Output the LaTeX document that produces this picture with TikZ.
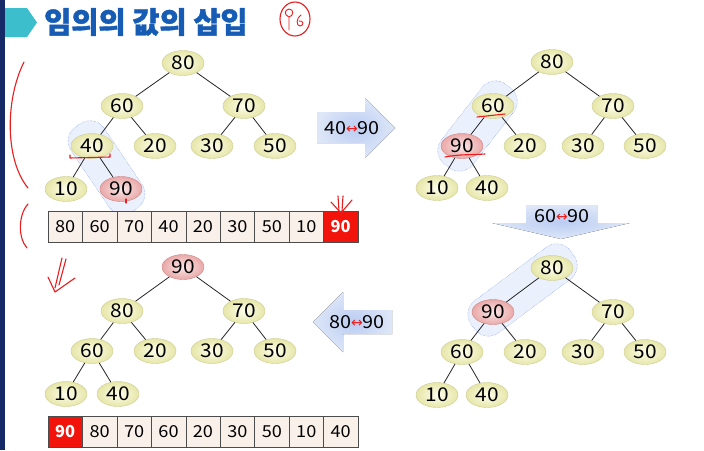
\documentclass[tikz,border=0pt]{standalone}
\usepackage{fontspec}
\setmainfont{Noto Sans CJK KR}
\newfontfamily\krfont[BoldFeatures={FakeBold=1.3}]{Noto Sans CJK KR}
\newfontfamily\numfont[FakeStretch=1.1]{Noto Sans CJK KR}
\newfontfamily\symfont{DejaVu Sans}
\usetikzlibrary{shapes.geometric,calc}
\definecolor{nodein}{RGB}{254,254,238}
\definecolor{nodeout}{RGB}{230,230,168}
\definecolor{nodeedge}{RGB}{205,205,150}
\definecolor{redin}{RGB}{250,232,232}
\definecolor{redout}{RGB}{234,168,168}
\definecolor{rededge}{RGB}{205,135,135}
\definecolor{cellfill}{RGB}{250,240,234}
\definecolor{cellred}{RGB}{242,20,10}
\definecolor{titleblue}{RGB}{22,92,180}
\definecolor{barblue}{RGB}{22,42,104}
\definecolor{tealarr}{RGB}{60,190,205}
\definecolor{hlfill}{RGB}{222,232,250}
\definecolor{hldraw}{RGB}{100,130,230}
\definecolor{arrin}{RGB}{186,204,242}
\definecolor{arrout}{RGB}{222,231,248}
\definecolor{pen}{RGB}{232,30,30}
\tikzset{
  hn/.style={ellipse, minimum width=42pt, minimum height=25pt, inner sep=0pt,
    draw=nodeedge, inner color=nodein, outer color=nodeout,
    font=\numfont\fontsize{19}{19}\selectfont},
  hr/.style={hn, draw=rededge, inner color=redin, outer color=redout},
  treeline/.style={draw=black!85, line width=0.8pt},
  cell/.style={draw=black!70, fill=cellfill, minimum width=34.44pt, minimum height=31pt,
    inner sep=0pt, font=\numfont\fontsize{16.5}{16.5}\selectfont},
  redcell/.style={cell, fill=cellred, text=white, font=\bfseries\fontsize{16.5}{16.5}\selectfont},
  hl/.style={rectangle, rounded corners=17pt, draw=hldraw, densely dotted, fill=hlfill, fill opacity=0.6},
  blockarrow/.style={shading=radial, inner color=arrin, outer color=arrout},
  arrtext/.style={font=\numfont\fontsize{18}{18}\selectfont},
  pen/.style={draw=pen, line width=1.1pt, line cap=round, line join=round}
}
\newcommand\swp[2]{#1{\symfont\color{pen}\fontsize{14}{14}\selectfont\raisebox{1pt}{↔}}#2}
\begin{document}
\begin{tikzpicture}[x=1pt,y=-1pt]
\useasboundingbox (0,0) rectangle (704,450);
\fill[white] (0,0) rectangle (704,450);
% left bar and title
\fill[barblue] (0,0) rectangle (5,450);
\fill[tealarr] (5,8) -- (27,8) -- (37,22.5) -- (27,37) -- (5,37) -- cycle;
\node[anchor=west, text=titleblue, inner sep=0pt, font=\krfont\bfseries\fontsize{29.5}{29.5}\selectfont] (title) at (44,22) {임의의 값의 삽입};

% highlight capsules (behind nodes)
\coordinate (h1a) at (92,146); \coordinate (h1b) at (121,189);
\coordinate (h2a) at (493,106); \coordinate (h2b) at (462,146);
\coordinate (h3a) at (552,268); \coordinate (h3b) at (493,312);
\foreach \ca/\cb/\nm in {h1a/h1b/cap1, h2a/h2b/cap2, h3a/h3b/cap3}{
  \path let \p1=($(\cb)-(\ca)$), \n1={atan2(\y1,\x1)}, \n2={veclen(\x1,\y1)} in
    node[hl, rotate=\n1, minimum width=\n2+50pt, minimum height=40pt] (\nm) at ($(\ca)!0.5!(\cb)$) {};
}

% block arrows
\fill[blockarrow] (317,112) -- (365,112) -- (365,98) -- (395,128) -- (365,158) -- (365,143) -- (317,143) -- cycle;
\node[arrtext] (sw1) at (352,128) {\swp{40}{90}};
\fill[blockarrow] (526,205) -- (597,205) -- (597,223) -- (630,223) -- (561,239) -- (492,223) -- (526,223) -- cycle;
\node[arrtext] (sw2) at (562,216) {\swp{60}{90}};
\fill[blockarrow] (392,310) -- (343,310) -- (343,292) -- (313,322) -- (343,352) -- (343,334) -- (392,334) -- cycle;
\node[arrtext] (sw3) at (357,322) {\swp{80}{90}};

% tree 1
\node[hn] (a1) at (183,63) {80};
\node[hn] (a2) at (122,106) {60};
\node[hn] (a3) at (244,106) {70};
\node[hn] (a4) at (92,146) {40};
\node[hn] (a5) at (155,146) {20};
\node[hn] (a6) at (212,146) {30};
\node[hn] (a7) at (275,146) {50};
\node[hn] (a8) at (66,189) {10};
\node[hr] (a9) at (121,189) {90};
% tree 2
\node[hn] (b1) at (552,62) {80};
\node[hn] (b2) at (493,106) {60};
\node[hn] (b3) at (613,106) {70};
\node[hr] (b4) at (462,146) {90};
\node[hn] (b5) at (525,146) {20};
\node[hn] (b6) at (583,146) {30};
\node[hn] (b7) at (645,146) {50};
\node[hn] (b8) at (437,188) {10};
\node[hn] (b9) at (487,188) {40};
% tree 3
\node[hn] (c1) at (552,268) {80};
\node[hr] (c2) at (493,312) {90};
\node[hn] (c3) at (613,312) {70};
\node[hn] (c4) at (462,352) {60};
\node[hn] (c5) at (525,352) {20};
\node[hn] (c6) at (583,352) {30};
\node[hn] (c7) at (645,352) {50};
\node[hn] (c8) at (437,395) {10};
\node[hn] (c9) at (487,395) {40};
% tree 4
\node[hr] (d1) at (183,267) {90};
\node[hn] (d2) at (122,311) {80};
\node[hn] (d3) at (244,311) {70};
\node[hn] (d4) at (92,351) {60};
\node[hn] (d5) at (155,351) {20};
\node[hn] (d6) at (212,351) {30};
\node[hn] (d7) at (275,351) {50};
\node[hn] (d8) at (66,394) {10};
\node[hn] (d9) at (118,394) {40};

\foreach \t in {a,b,c,d}{
  \draw[treeline] (\t1) -- (\t2);
  \draw[treeline] (\t1) -- (\t3);
  \draw[treeline] (\t2) -- (\t4);
  \draw[treeline] (\t2) -- (\t5);
  \draw[treeline] (\t3) -- (\t6);
  \draw[treeline] (\t3) -- (\t7);
  \draw[treeline] (\t4) -- (\t8);
  \draw[treeline] (\t4) -- (\t9);
}

% arrays
\foreach \v [count=\i] in {80,60,70,40,20,30,50,10}{
  \node[cell] (p\i) at ({48+34.44*(\i-0.5)},227) {\v};
}
\node[redcell] (p9) at ({48+34.44*8.5},227) {90};
\node[redcell] (q1) at ({48+34.44*0.5},432) {90};
\foreach \v [count=\i from 2] in {80,70,60,20,30,50,10,40}{
  \node[cell] (q\i) at ({48+34.44*(\i-0.5)},432) {\v};
}

% pen annotations
\draw[pen] (24,62) .. controls (5,100) and (5,160) .. (28,188);
\draw[pen] (28,204) .. controls (18,215) and (18,238) .. (27,248);
\draw[pen] (70,155) -- (70,158) -- (110,157) -- (110,154);
\draw[pen] (126,199) -- (126,203);
\draw[pen] (338,196) -- (339,211);
\draw[pen] (343,196) -- (342,211);
\draw[pen] (331,202) -- (341,213) -- (352,200);
\draw[pen] (477,117) -- (505,114);
\draw[pen] (445,157) .. controls (460,154) and (472,155) .. (485,154);
\draw[pen] (62,258) -- (55,288);
\draw[pen] (66,259) -- (59,285);
\draw[pen] (48,277) -- (55,292) -- (75,278);
\draw[pen] (295,19) ellipse (15pt and 17pt);
\draw[pen, line width=0.9pt] (289,30) -- (289,17) .. controls (284,15) and (284,10) .. (289,9) .. controls (294,9) and (294,16) .. (289,17);
\draw[pen, line width=0.9pt] (301,15) .. controls (296,18) and (296,26) .. (300,26) .. controls (304,26) and (304,20) .. (299,21);
\end{tikzpicture}
\end{document}
